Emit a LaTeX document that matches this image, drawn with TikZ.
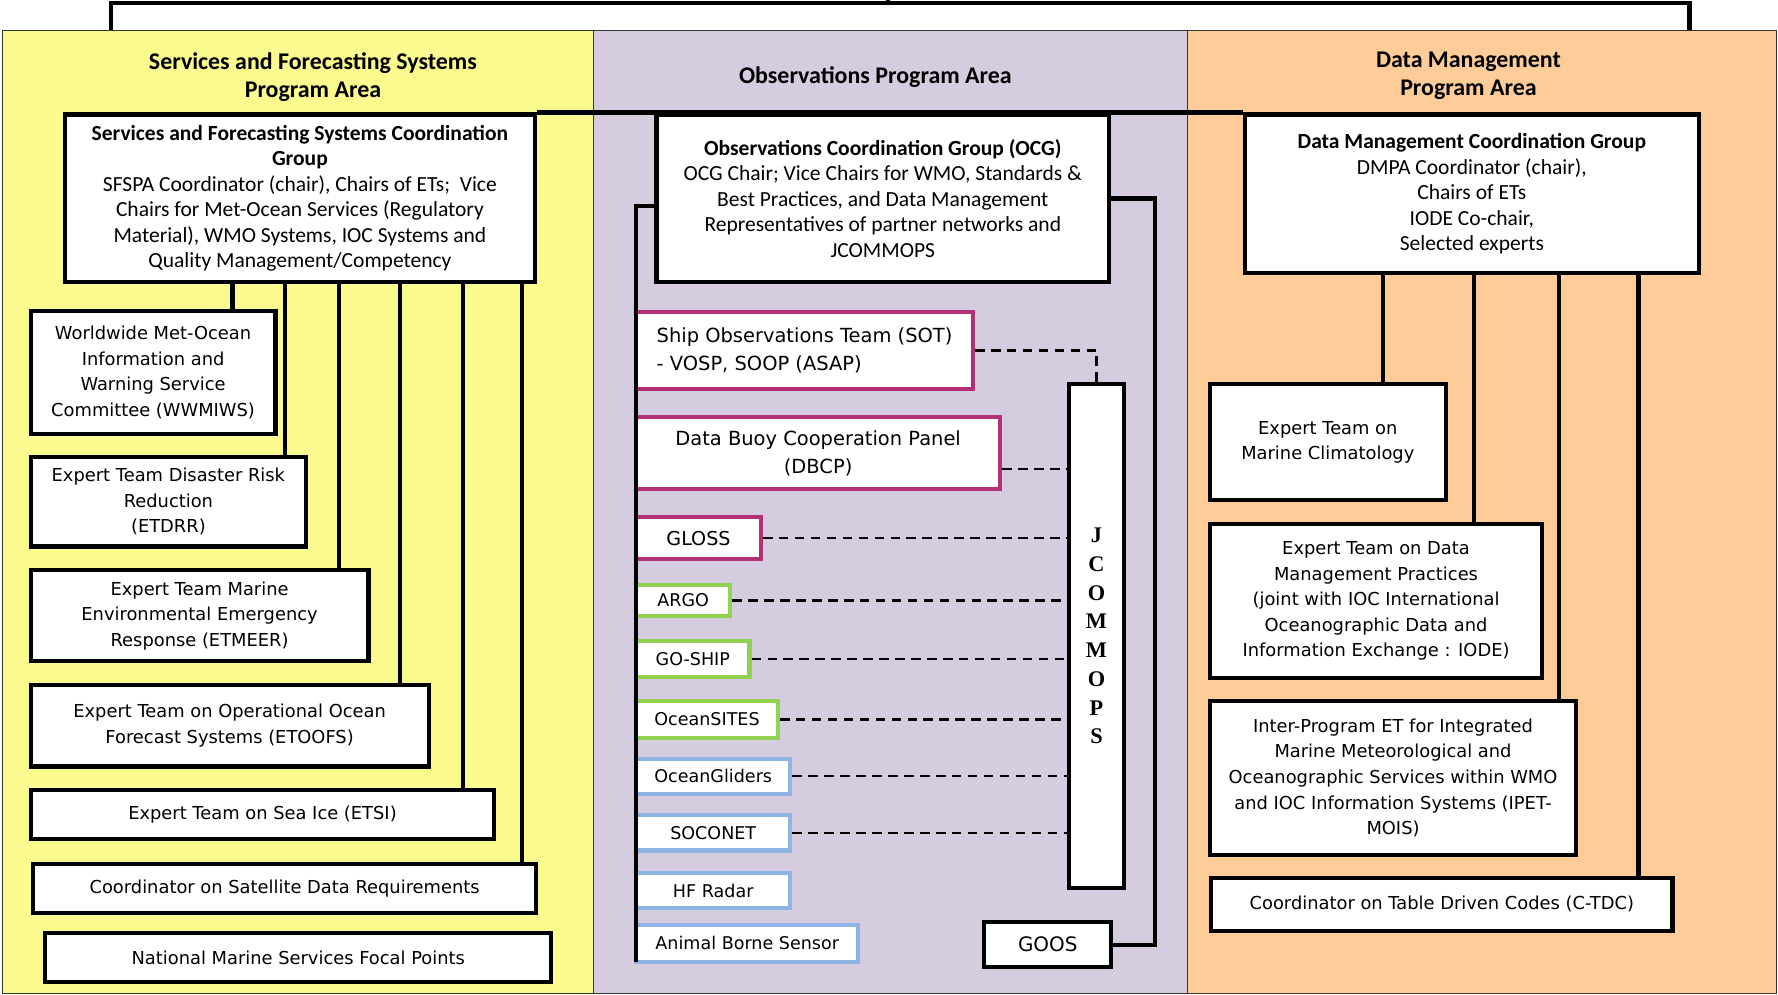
\documentclass[tikz,border=0pt]{standalone}
\usepackage{fontspec}
\setmainfont{DejaVu Sans}
\newfontfamily\calfont{Carlito}
\newfontfamily\serfont{Liberation Serif}
\definecolor{sfsyellow}{RGB}{250,250,142}
\definecolor{obslilac}{RGB}{213,204,224}
\definecolor{dmorange}{RGB}{254,204,153}
\definecolor{sotpink}{RGB}{180,48,118}
\definecolor{netgreen}{RGB}{146,208,80}
\definecolor{netblue}{RGB}{141,180,226}
% box from corner (x1,y1) to corner (x2,y2), y downwards
\newcommand{\ubox}[7]{\node[#1, minimum width={(#5-#3)*0.025cm}, minimum height={(#6-#4)*0.025cm}] (#2) at ({(#3+#5)/2},{(#4+#6)/2}) {#7};}
\begin{document}
\begin{tikzpicture}[x=0.025cm,y=-0.025cm,
    area/.style={draw=black!80,line width=0.6pt,inner sep=0pt},
    head/.style={font=\calfont\bfseries\fontsize{15}{17.9}\selectfont,align=center},
    cgroup/.style={draw,line width=2.6pt,fill=white,align=center,inner sep=1pt,
      font=\calfont\fontsize{13.5}{16}\selectfont},
    team/.style={draw,line width=2.6pt,fill=white,align=center,inner sep=1pt,
      font=\fontsize{11.2}{16}\selectfont},
    net/.style={draw,line width=2.6pt,fill=white,align=center,inner sep=1pt,
      font=\fontsize{11}{16}\selectfont},
    jbox/.style={draw,line width=2.6pt,fill=white,align=center,inner sep=1pt,
      font=\serfont\bfseries\fontsize{14}{18}\selectfont},
    link/.style={line width=2.6pt},
    jlink/.style={line width=1.5pt,dash pattern=on 6pt off 4pt}]

    \useasboundingbox (0,0) rectangle (1568,877);

    % program areas
    \ubox{area,fill=sfsyellow}{sfa}{2}{27}{523}{876}{}
    \ubox{area,fill=obslilac}{opa}{523}{27}{1047}{876}{}
    \ubox{area,fill=dmorange}{dma}{1047}{27}{1567}{876}{}

    \node[head] (sfah) at (276,68) {Services and Forecasting Systems\\Program Area};
    \node[head] (opah) at (772,68) {Observations Program Area};
    \node[head] (dmah) at (1295,67) {Data Management\\Program Area};

    % bracket on top
    \coordinate (tl) at (98,3);
    \coordinate (tr) at (1490,3);
    \coordinate (tm) at (783,0);
    \draw[link] (sfa.north -| tl) -- (tl) -- (tr) -- (dma.north -| tr);
    \draw[link] (tm) -- (tm |- tl);

    % coordination groups
    \ubox{cgroup}{sfs}{57}{101}{472}{249}{\textbf{Services and Forecasting Systems Coordination}\\
      \textbf{Group}\\SFSPA Coordinator (chair), Chairs of ETs;~ Vice\\
      Chairs for Met-Ocean Services (Regulatory\\Material), WMO Systems, IOC Systems and\\
      Quality Management/Competency}
    \ubox{cgroup}{ocg}{579}{101}{978}{249}{\textbf{Observations Coordination Group (OCG)}\\
      OCG Chair; Vice Chairs for WMO, Standards \&\\Best Practices, and Data Management\\
      Representatives of partner networks and\\JCOMMOPS}
    \ubox{cgroup}{dmc}{1098}{101}{1498}{241}{\textbf{Data Management Coordination Group}\\
      DMPA Coordinator (chair),\\Chairs of ETs\\IODE Co-chair,\\Selected experts}
    \draw[link] (sfs.north east) -- (dmc.north west);

    % services and forecasting teams
    \ubox{team}{wwm}{27}{274}{243}{383}{Worldwide Met-Ocean\\Information and\\Warning Service\\Committee (WWMIWS)}
    \ubox{team}{etdrr}{27}{403}{270}{482}{Expert Team Disaster Risk\\Reduction\\(ETDRR)}
    \ubox{team}{etmeer}{27}{503}{325}{583}{Expert Team Marine\\Environmental Emergency\\Response (ETMEER)}
    \ubox{team}{etoofs}{27}{604}{378}{676}{Expert Team on Operational Ocean\\Forecast Systems (ETOOFS)}
    \ubox{team}{etsi}{27}{697}{436}{740}{Expert Team on Sea Ice (ETSI)}
    \ubox{team}{sat}{29}{762}{473}{805}{Coordinator on Satellite Data Requirements}
    \ubox{team}{nmsfp}{40}{823}{486}{866}{National Marine Services Focal Points}

    \coordinate (s1) at (205,0);
    \coordinate (s2) at (251,0);
    \coordinate (s3) at (299,0);
    \coordinate (s4) at (353,0);
    \coordinate (s5) at (408,0);
    \coordinate (s6) at (460,0);
    \draw[link] (sfs.south -| s1) -- (wwm.north -| s1);
    \draw[link] (sfs.south -| s2) -- (etdrr.north -| s2);
    \draw[link] (sfs.south -| s3) -- (etmeer.north -| s3);
    \draw[link] (sfs.south -| s4) -- (etoofs.north -| s4);
    \draw[link] (sfs.south -| s5) -- (etsi.north -| s5);
    \draw[link] (sfs.south -| s6) -- (sat.north -| s6);

    % observing networks
    \ubox{net,draw=sotpink,align=left,font=\fontsize{12.2}{17.7}\selectfont}{sot}{561}{275}{858}{343}{Ship Observations Team (SOT)\\- VOSP, SOOP (ASAP)}
    \ubox{net,draw=sotpink,font=\fontsize{12.2}{17.7}\selectfont}{dbcp}{561}{368}{882}{431}{Data Buoy Cooperation Panel\\(DBCP)}
    \ubox{net,draw=sotpink,font=\fontsize{12}{16}\selectfont}{gloss}{561}{456}{671}{493}{GLOSS}
    \ubox{net,draw=netgreen}{argo}{561}{516}{644}{543}{ARGO}
    \ubox{net,draw=netgreen}{goship}{561}{565}{661}{597}{GO-SHIP}
    \ubox{net,draw=netgreen}{sites}{561}{618}{686}{651}{OceanSITES}
    \ubox{net,draw=netblue}{gliders}{561}{669}{697}{700}{OceanGliders}
    \ubox{net,draw=netblue}{soconet}{561}{719}{697}{750}{SOCONET}
    \ubox{net,draw=netblue}{hfr}{561}{770}{697}{801}{HF Radar}
    \ubox{net,draw=netblue}{abs}{561}{816}{757}{848}{Animal Borne Sensor}

    \ubox{jbox}{jco}{943}{339}{991}{783}{J\\C\\O\\M\\M\\O\\P\\S}
    \ubox{net,font=\fontsize{12.5}{16}\selectfont}{goos}{868}{813}{980}{853}{GOOS}

    \coordinate (spine) at (561,848);
    \draw[link] ([yshift=-0.175cm]ocg.west) -| (spine);
    \draw[link] (ocg.east) -- ++(39,0) |- (goos.east);

    \draw[jlink] (sot.east) -| (jco.north);
    \draw[jlink] ([yshift=-0.35cm]dbcp.east) coordinate (d1) -- (d1 -| jco.west);
    \draw[jlink] (gloss.east) -- (gloss.east -| jco.west);
    \draw[jlink] (argo.east) -- (argo.east -| jco.west);
    \draw[jlink] (goship.east) -- (goship.east -| jco.west);
    \draw[jlink] (sites.east) -- (sites.east -| jco.west);
    \draw[jlink] (gliders.east) -- (gliders.east -| jco.west);
    \draw[jlink] (soconet.east) -- (soconet.east -| jco.west);

    % data management teams
    \ubox{team}{etmc}{1067}{339}{1275}{441}{Expert Team on\\Marine Climatology}
    \ubox{team}{etdmp}{1067}{462}{1360}{598}{Expert Team on Data\\Management Practices\\(joint with IOC International\\Oceanographic Data and\\Information Exchange : IODE)}
    \ubox{team}{ipet}{1067}{618}{1390}{754}{Inter-Program ET for Integrated\\Marine Meteorological and\\Oceanographic Services within WMO\\and IOC Information Systems (IPET-\\MOIS)}
    \ubox{team}{ctdc}{1068}{774}{1475}{821}{Coordinator on Table Driven Codes (C-TDC)}

    \coordinate (d1) at (1220,0);
    \coordinate (d2) at (1300,0);
    \coordinate (d3) at (1375,0);
    \coordinate (d4) at (1445,0);
    \draw[link] (dmc.south -| d1) -- (etmc.north -| d1);
    \draw[link] (dmc.south -| d2) -- (etdmp.north -| d2);
    \draw[link] (dmc.south -| d3) -- (ipet.north -| d3);
    \draw[link] (dmc.south -| d4) -- (ctdc.north -| d4);
\end{tikzpicture}
\end{document}
